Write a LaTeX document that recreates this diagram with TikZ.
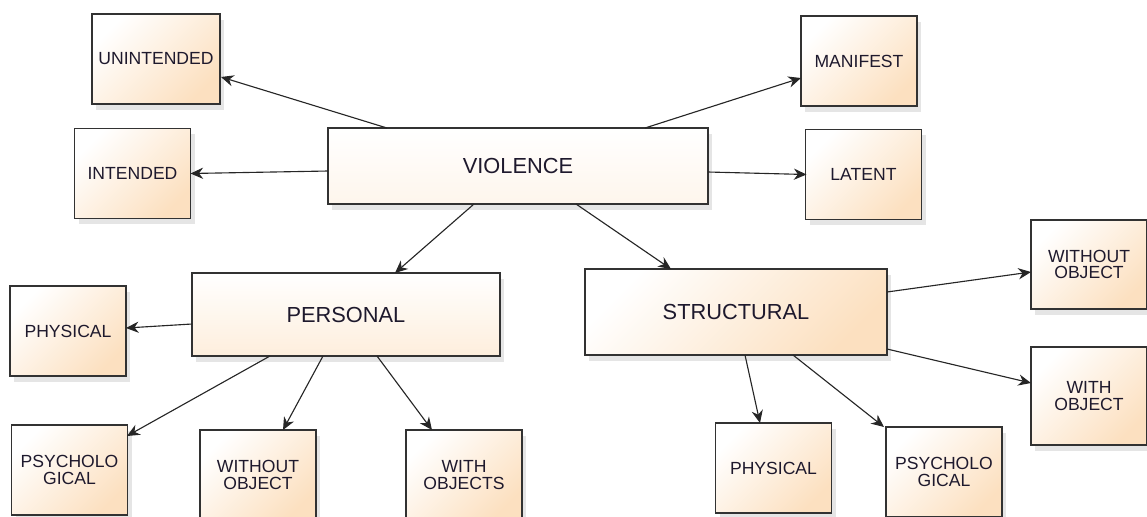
\documentclass[tikz,border=0pt]{standalone}
\usepackage{fontspec}
\setmainfont{Liberation Sans}
\usepackage{tikz}
\usetikzlibrary{calc,shadows,arrows.meta}
\usepackage{xcolor}
\definecolor{boxend}{RGB}{252,224,192}
\definecolor{boxline}{RGB}{50,50,50}
\definecolor{inktext}{RGB}{30,25,45}

\begin{document}
\begin{tikzpicture}[x=0.025cm,y=-0.025cm]
			\tikzset{
			every node/.style = {rectangle,draw=boxline,line width=0.9pt,align=center,text=inktext,
				top color=white,bottom color=boxend,shading angle=45,
				drop shadow={shadow xshift=3pt,shadow yshift=-4pt,opacity=0.10,fill=black},
				font=\fontsize{12.5}{11.5}\selectfont},
			leaf/.style = {minimum width=2.9cm,minimum height=2.25cm,inner sep=1pt},
			bigbox/.style = {font=\fontsize{15.5}{17}\selectfont}
		}
		\useasboundingbox (0,0) rectangle (1147,516);
		\begin{scope}
		\clip (0,0) rectangle (1147,516);
		\node [bigbox,minimum width=9.5cm,minimum height=1.9cm,bottom color=boxend!30] (violence) at (518,166) {VIOLENCE};
		\node [bigbox,minimum width=7.7cm,minimum height=2.075cm,bottom color=boxend!55] (personal) at (346,314.5) {PERSONAL};
		\node [bigbox,minimum width=7.55cm,minimum height=2.15cm] (structural) at (736,312) {STRUCTURAL};
		\node [leaf,minimum width=3.2cm] (unint) at (156,59) {UNINTENDED};
		\node [leaf] (manif) at (859,61) {MANIFEST};
		\node [leaf] (intend) at (132.5,173.5) {INTENDED};
		\node [leaf] (latent) at (863.5,174.5) {LATENT};
		\node [leaf] (physL) at (68,331) {PHYSICAL};
		\node [leaf] (psychL) at (69.5,470) {PSYCHOLO\\GICAL};
		\node [leaf] (woL) at (258,475) {WITHOUT\\OBJECT};
		\node [leaf] (wiL) at (464,475) {WITH\\OBJECTS};
		\node [leaf,minimum height=2.225cm] (woR) at (1089,264.5) {WITHOUT\\OBJECT};
		\node [leaf,minimum height=2.45cm] (wiR) at (1089,396) {WITH\\OBJECT};
		\node [leaf] (physR) at (773.5,468) {PHYSICAL};
		\node [leaf] (psychR) at (944,472) {PSYCHOLO\\GICAL};
		\end{scope}
		\tikzset{every path/.style = {draw=black!85,line width=0.8pt}}
		\draw [-{Stealth[length=9pt,width=8pt]}] ($(violence)+(-131,-38)$) -- ($(unint)+(65,18)$);
		\draw [-{Stealth[length=9pt,width=8pt]}] ($(violence)+(127,-38)$) -- ($(manif)+(-58,17)$);
		\draw [-{Stealth[length=9pt,width=8pt]}] ($(violence)+(-190,5)$) -- ($(intend)+(58,0)$);
		\draw [-{Stealth[length=9pt,width=8pt]}] ($(violence)+(190,6)$) -- ($(latent)+(-57,0)$);
		\draw [-{Stealth[length=9pt,width=8pt]}] ($(violence)+(-44,38)$) -- ($(personal)+(49,-41.5)$);
		\draw [-{Stealth[length=9pt,width=8pt]}] ($(violence)+(58,38)$) -- ($(structural)+(-65,-43)$);
		\draw [-{Stealth[length=9pt,width=8pt]}] ($(personal)+(-154,9.5)$) -- ($(physL)+(58,-3)$);
		\draw [-{Stealth[length=9pt,width=8pt]}] ($(personal)+(-76,41.5)$) -- ($(psychL)+(57.5,-34)$);
		\draw [-{Stealth[length=9pt,width=8pt]}] ($(personal)+(-23,41.5)$) -- ($(woL)+(25,-45)$);
		\draw [-{Stealth[length=9pt,width=8pt]}] ($(personal)+(31,41.5)$) -- ($(wiL)+(-32,-45)$);
		\draw [-{Stealth[length=9pt,width=8pt]}] ($(structural)+(151,-20)$) -- ($(woR)+(-58,7.5)$);
		\draw [-{Stealth[length=9pt,width=8pt]}] ($(structural)+(151,37)$) -- ($(wiR)+(-58,-13)$);
		\draw [-{Stealth[length=9pt,width=8pt]}] ($(structural)+(9,43)$) -- ($(physR)+(-13.5,-45)$);
		\draw [-{Stealth[length=9pt,width=8pt]}] ($(structural)+(57,43)$) -- ($(psychR)+(-60,-45)$);
		\end{tikzpicture}
\end{document}
